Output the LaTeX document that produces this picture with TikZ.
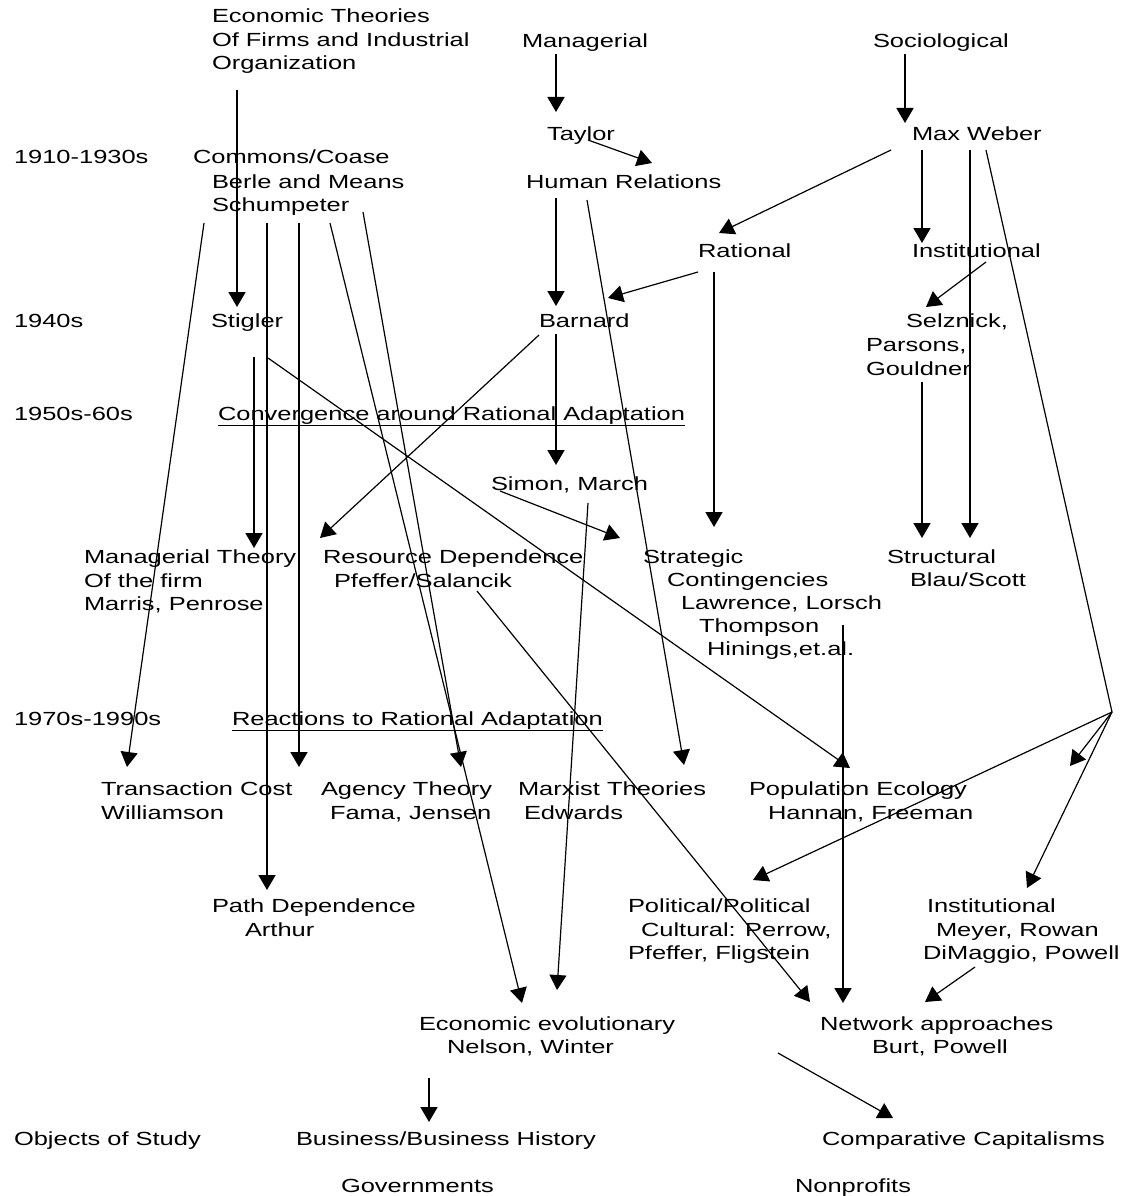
\documentclass[tikz,border=0pt]{standalone}
\usepackage{fontspec}
\setmainfont{Liberation Sans}[FakeStretch=1.34]
\usetikzlibrary{arrows.meta}
\tikzset{
  lbl/.style={anchor=base west, inner sep=0pt, outer sep=0pt, text=black, font=\fontsize{19}{23}\selectfont},
  thickarr/.style={line width=1.8pt, -{Triangle[width=17pt,length=15pt]}},
  thinarr/.style={line width=1.2pt, -{Triangle[width=17pt,length=15pt]}},
  thinline/.style={line width=1.2pt}
}
\begin{document}
\begin{tikzpicture}[x=1pt,y=-1pt]
\fill[white] (0,0) rectangle (1126,1196);
\useasboundingbox (0,0) rectangle (1126,1196);

% ---- period labels ----
\node[lbl] (y1910) at (14,164) {1910-1930s};
\node[lbl] (y1940) at (14,327) {1940s};
\node[lbl] (y1950) at (14,420) {1950s-60s};
\node[lbl] (y1970) at (14,725) {1970s-1990s};
\node[lbl] (objs) at (14,1145) {Objects of Study};

% ---- texts ----
\node[lbl] (econA) at (212,23) {Economic Theories};
\node[lbl] (econB) at (212,47) {Of Firms and Industrial};
\node[lbl] (econC) at (212,70) {Organization};
\node[lbl] (manag) at (522,48) {Managerial};
\node[lbl] (socio) at (873,48) {Sociological};
\node[lbl] (taylor) at (547,140) {Taylor};
\node[lbl] (weber) at (912,140) {Max Weber};
\node[lbl] (commons) at (193,164) {Commons/Coase};
\node[lbl] (berle) at (212,188) {Berle and Means};
\node[lbl] (schump) at (212,211) {Schumpeter};
\node[lbl] (humrel) at (526,188) {Human Relations};
\node[lbl] (rational) at (698,257) {Rational};
\node[lbl] (instit) at (912,257) {Institutional};
\node[lbl] (stigler) at (211,327) {Stigler};
\node[lbl] (barnard) at (539,327) {Barnard};
\node[lbl] (selz) at (906,327) {Selznick,};
\node[lbl] (parsons) at (866,351) {Parsons,};
\node[lbl] (gould) at (866,375) {Gouldner};
\node[lbl] (converg) at (218,420) {\underline{Convergence around Rational Adaptation}};
\node[lbl] (simon) at (491,490) {Simon, March};
\node[lbl] (mtA) at (84,563) {Managerial Theory};
\node[lbl] (mtB) at (84,587) {Of the firm};
\node[lbl] (mtC) at (84,610) {Marris, Penrose};
\node[lbl] (rdA) at (323,563) {Resource Dependence};
\node[lbl] (rdB) at (334,587) {Pfeffer/Salancik};
\node[lbl] (scA) at (643,563) {Strategic};
\node[lbl] (scB) at (667,586) {Contingencies};
\node[lbl] (scC) at (681,609) {Lawrence, Lorsch};
\node[lbl] (scD) at (699,632) {Thompson};
\node[lbl] (scE) at (707,655) {Hinings,et.al.};
\node[lbl] (stA) at (887,563) {Structural};
\node[lbl] (stB) at (910,586) {Blau/Scott};
\node[lbl] (react) at (232,725) {\underline{Reactions to Rational Adaptation}};
\node[lbl] (tcA) at (101,795) {Transaction Cost};
\node[lbl] (tcB) at (101,819) {Williamson};
\node[lbl] (agA) at (321,795) {Agency Theory};
\node[lbl] (agB) at (330,819) {Fama, Jensen};
\node[lbl] (mxA) at (518,795) {Marxist Theories};
\node[lbl] (mxB) at (524,819) {Edwards};
\node[lbl] (peA) at (749,795) {Population Ecology};
\node[lbl] (peB) at (768,819) {Hannan, Freeman};
\node[lbl] (pdA) at (212,912) {Path Dependence};
\node[lbl] (pdB) at (245,936) {Arthur};
\node[lbl] (poA) at (628,912) {Political/Political};
\node[lbl] (poB) at (641,936) {Cultural: Perrow,};
\node[lbl] (poC) at (628,959) {Pfeffer, Fligstein};
\node[lbl] (inA) at (927,912) {Institutional};
\node[lbl] (inB) at (936,936) {Meyer, Rowan};
\node[lbl] (inC) at (923,959) {DiMaggio, Powell};
\node[lbl] (evA) at (419,1030) {Economic evolutionary};
\node[lbl] (evB) at (447,1053) {Nelson, Winter};
\node[lbl] (nwA) at (820,1030) {Network approaches};
\node[lbl] (nwB) at (872,1053) {Burt, Powell};
\node[lbl] (bus) at (296,1145) {Business/Business History};
\node[lbl] (comp) at (822,1145) {Comparative Capitalisms};
\node[lbl] (gov) at (341,1192) {Governments};
\node[lbl] (nonp) at (795,1192) {Nonprofits};

% ---- connector end points ----
\coordinate (e1s) at (237,90);   \coordinate (e1t) at (237,307);
\coordinate (m1s) at (556,54);   \coordinate (m1t) at (556,112);
\coordinate (s1s) at (905,54);   \coordinate (s1t) at (905,123);
\coordinate (t1s) at (588,140);  \coordinate (t1t) at (652,163);
\coordinate (w1s) at (891,150);  \coordinate (w1t) at (719,233);
\coordinate (w2s) at (922,150);  \coordinate (w2t) at (922,243);
\coordinate (w3s) at (970,150);  \coordinate (w3t) at (970,538);
\coordinate (w4s) at (986,150);  \coordinate (fan) at (1112,712);
\coordinate (f1t) at (1070,766); \coordinate (f2t) at (1027,888);
\coordinate (f3t) at (753,880);
\coordinate (c1s) at (204,223);  \coordinate (c1t) at (127,767);
\coordinate (c2s) at (267,223);  \coordinate (c2t) at (267,890);
\coordinate (c3s) at (299,223);  \coordinate (c3t) at (299,767);
\coordinate (c4s) at (330,223);  \coordinate (c4t) at (522,1003);
\coordinate (c5s) at (363,212);  \coordinate (c5t) at (461,767);
\coordinate (h1s) at (556,198);  \coordinate (h1t) at (556,306);
\coordinate (h2s) at (587,200);  \coordinate (h2t) at (684,765);
\coordinate (r1s) at (698,272);  \coordinate (r1t) at (608,298);
\coordinate (r2s) at (714,272);  \coordinate (r2t) at (714,527);
\coordinate (i1s) at (986,262);  \coordinate (i1t) at (926,307);
\coordinate (g1s) at (922,382);  \coordinate (g1t) at (922,538);
\coordinate (b1s) at (556,334);  \coordinate (b1t) at (556,465);
\coordinate (b2s) at (539,335);  \coordinate (b2t) at (320,538);
\coordinate (st1s) at (254,357); \coordinate (st1t) at (254,548);
\coordinate (st2s) at (268,358); \coordinate (st2t) at (850,768);
\coordinate (sm1s) at (500,491); \coordinate (sm1t) at (620,538);
\coordinate (sm2s) at (588,503); \coordinate (sm2t) at (557,990);
\coordinate (rd1s) at (477,591); \coordinate (rd1t) at (810,1002);
\coordinate (sc1s) at (843,625); \coordinate (sc1t) at (843,1003);
\coordinate (in1s) at (975,967); \coordinate (in1t) at (925,1002);
\coordinate (ev1s) at (429,1078);\coordinate (ev1t) at (429,1122);
\coordinate (nw1s) at (778,1053);\coordinate (nw1t) at (893,1118);

% ---- connectors ----
\draw[thickarr] (e1s) -- (e1t);
\draw[thickarr] (m1s) -- (m1t);
\draw[thickarr] (s1s) -- (s1t);
\draw[thinarr] (t1s) -- (t1t);
\draw[thinarr] (w1s) -- (w1t);
\draw[thickarr] (w2s) -- (w2t);
\draw[thickarr] (w3s) -- (w3t);
\draw[thinline] (w4s) -- (fan);
\draw[thinarr] (fan) -- (f1t);
\draw[thinarr] (fan) -- (f2t);
\draw[thinarr] (fan) -- (f3t);
\draw[thinarr] (c1s) -- (c1t);
\draw[thickarr] (c2s) -- (c2t);
\draw[thickarr] (c3s) -- (c3t);
\draw[thinarr] (c4s) -- (c4t);
\draw[thinarr] (c5s) -- (c5t);
\draw[thickarr] (h1s) -- (h1t);
\draw[thinarr] (h2s) -- (h2t);
\draw[thinarr] (r1s) -- (r1t);
\draw[thickarr] (r2s) -- (r2t);
\draw[thinarr] (i1s) -- (i1t);
\draw[thickarr] (g1s) -- (g1t);
\draw[thickarr] (b1s) -- (b1t);
\draw[thinarr] (b2s) -- (b2t);
\draw[thickarr] (st1s) -- (st1t);
\draw[thinarr] (st2s) -- (st2t);
\draw[thinarr] (sm1s) -- (sm1t);
\draw[thinarr] (sm2s) -- (sm2t);
\draw[thinarr] (rd1s) -- (rd1t);
\draw[thickarr] (sc1s) -- (sc1t);
\draw[thinarr] (in1s) -- (in1t);
\draw[thickarr] (ev1s) -- (ev1t);
\draw[thinarr] (nw1s) -- (nw1t);
\end{tikzpicture}
\end{document}
